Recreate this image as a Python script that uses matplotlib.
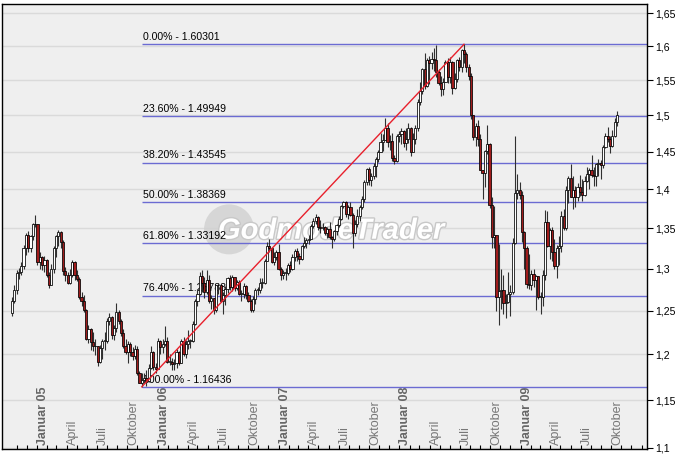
#!/usr/bin/env python3
"""EUR/USD weekly candles with Fibonacci retracement, GodmodeTrader style."""

import datetime as dt

import matplotlib

matplotlib.use("Agg")
import matplotlib.patheffects as pe  # noqa: E402
import matplotlib.pyplot as plt  # noqa: E402
import matplotlib.transforms as mtransforms  # noqa: E402
from matplotlib.patches import Ellipse  # noqa: E402
from matplotlib.ticker import FixedLocator, FuncFormatter, NullLocator  # noqa: E402
import numpy as np  # noqa: E402

plt.rcParams["font.family"] = ["Liberation Sans", "DejaVu Sans"]

# ---- data (weekly bars, first bar = week of 18 Oct 2004) ----
FIRST_WEEK = dt.date(2004, 10, 18)
LAST_LABEL = dt.date(2009, 10, 1)
FIRST_OPEN = 1.2470

close = [
    # 2004
    1.2620, 1.2750, 1.2950, 1.2960, 1.3030, 1.3260, 1.3410, 1.3260, 1.3400, 1.3550, 1.3560,
    # 2005
    1.3080, 1.3140, 1.3050, 1.3110, 1.2920, 1.2810, 1.3000, 1.3250, 1.3400, 1.3450,
    1.3330, 1.2970, 1.2920, 1.2830, 1.2930, 1.3080, 1.2920, 1.2880, 1.2660, 1.2620,
    1.2510, 1.2180, 1.2290, 1.2140, 1.2090, 1.2100, 1.1920, 1.2070, 1.2150, 1.2150,
    1.2380, 1.2430, 1.2220, 1.2300, 1.2480, 1.2380, 1.2240, 1.2100, 1.2030, 1.2120,
    1.2030, 1.1980, 1.2060, 1.1790, 1.1690, 1.1720, 1.1740, 1.1710, 1.1850, 1.2030,
    1.1860, 1.1840,
    # 2006
    1.2150, 1.2080, 1.2120, 1.2150, 1.1920, 1.1920, 1.1890, 1.1910, 1.2030, 1.1910,
    1.2150, 1.2000, 1.2120, 1.2150, 1.2150, 1.2350, 1.2620, 1.2700, 1.2910, 1.2830,
    1.2720, 1.2870, 1.2610, 1.2650, 1.2510, 1.2800, 1.2810, 1.2620, 1.2680, 1.2760,
    1.2890, 1.2780, 1.2900, 1.2770, 1.2840, 1.2700, 1.2700, 1.2790, 1.2680, 1.2620,
    1.2510, 1.2640, 1.2750, 1.2750, 1.2830, 1.2830, 1.3100, 1.3280, 1.3250, 1.3080,
    1.3140, 1.3200,
    # 2007
    1.3000, 1.2920, 1.2950, 1.2950, 1.3040, 1.3000, 1.3140, 1.3220, 1.3150, 1.3120,
    1.3280, 1.3320, 1.3350, 1.3370, 1.3530, 1.3590, 1.3640, 1.3520, 1.3510, 1.3520,
    1.3440, 1.3490, 1.3390, 1.3370, 1.3460, 1.3540, 1.3620, 1.3790, 1.3830, 1.3680,
    1.3770, 1.3670, 1.3440, 1.3560, 1.3650, 1.3770, 1.3880, 1.4090, 1.4270, 1.4120,
    1.4180, 1.4310, 1.4400, 1.4500, 1.4630, 1.4660, 1.4830, 1.4630, 1.4650, 1.4420,
    1.4380, 1.4720, 1.4740,
    # 2008
    1.4780, 1.4620, 1.4680, 1.4830, 1.4500, 1.4670, 1.4830, 1.5190, 1.5350, 1.5660,
    1.5420, 1.5790, 1.5750, 1.5810, 1.5800, 1.5620, 1.5460, 1.5380, 1.5470, 1.5760,
    1.5550, 1.5770, 1.5390, 1.5520, 1.5790, 1.5700, 1.5950, 1.5880, 1.5690, 1.5560,
    1.5000, 1.4700, 1.4850, 1.4680, 1.4260, 1.4220, 1.4510, 1.4610, 1.3800, 1.3390,
    1.3420, 1.2660, 1.2730, 1.2740, 1.2590, 1.2600, 1.2700, 1.2720, 1.3320, 1.3950,
    1.3990, 1.3920,
    # 2009
    1.3450, 1.3260, 1.2820, 1.2800, 1.2940, 1.2870, 1.2910, 1.2660, 1.2660, 1.2920,
    1.3580, 1.3280, 1.3480, 1.3200, 1.3030, 1.3250, 1.3280, 1.3660, 1.3500, 1.3990,
    1.4150, 1.3900, 1.3990, 1.3900, 1.4030, 1.3960, 1.3930, 1.4110, 1.4200, 1.4260,
    1.4190, 1.4180, 1.4330, 1.4350, 1.4320, 1.4560, 1.4710, 1.4680, 1.4580, 1.4710,
    1.4910, 1.5010,
]

high = [
    # 2004
    1.2660, 1.2800, 1.2990, 1.3010, 1.3080, 1.3290, 1.3440, 1.3460, 1.3420, 1.3570, 1.3667,
    # 2005
    1.3560, 1.3200, 1.3160, 1.3150, 1.3120, 1.2960, 1.3060, 1.3280, 1.3420, 1.3480,
    1.3470, 1.3350, 1.3020, 1.2960, 1.3000, 1.3110, 1.3090, 1.2980, 1.2900, 1.2720,
    1.2680, 1.2520, 1.2330, 1.2300, 1.2250, 1.2180, 1.2100, 1.2110, 1.2180, 1.2250,
    1.2420, 1.2470, 1.2440, 1.2330, 1.2586, 1.2510, 1.2400, 1.2290, 1.2170, 1.2150,
    1.2140, 1.2080, 1.2110, 1.2100, 1.1820, 1.1790, 1.1800, 1.1830, 1.1890, 1.2100,
    1.2040, 1.1900,
    # 2006
    1.2190, 1.2160, 1.2180, 1.2320, 1.2200, 1.2010, 1.1960, 1.1950, 1.2060, 1.2040,
    1.2180, 1.2200, 1.2160, 1.2280, 1.2180, 1.2380, 1.2640, 1.2760, 1.2960, 1.2980,
    1.2900, 1.2980, 1.2920, 1.2690, 1.2640, 1.2810, 1.2830, 1.2820, 1.2720, 1.2790,
    1.2900, 1.2920, 1.2920, 1.2900, 1.2870, 1.2860, 1.2740, 1.2830, 1.2800, 1.2720,
    1.2640, 1.2670, 1.2770, 1.2780, 1.2890, 1.2890, 1.3120, 1.3330, 1.3367, 1.3260,
    1.3200, 1.3230,
    # 2007
    1.3300, 1.3020, 1.2990, 1.3010, 1.3070, 1.3090, 1.3180, 1.3240, 1.3260, 1.3190,
    1.3290, 1.3390, 1.3380, 1.3410, 1.3550, 1.3630, 1.3682, 1.3660, 1.3610, 1.3570,
    1.3530, 1.3520, 1.3580, 1.3400, 1.3480, 1.3560, 1.3650, 1.3800, 1.3852, 1.3850,
    1.3800, 1.3840, 1.3700, 1.3600, 1.3740, 1.3800, 1.3910, 1.4120, 1.4280, 1.4290,
    1.4220, 1.4350, 1.4430, 1.4530, 1.4750, 1.4740, 1.4967, 1.4890, 1.4730, 1.4760,
    1.4450, 1.4740, 1.4790,
    # 2008
    1.4830, 1.4800, 1.4820, 1.4900, 1.4840, 1.4750, 1.4870, 1.5230, 1.5470, 1.5680,
    1.5900, 1.5820, 1.5850, 1.5910, 1.5980, 1.6019, 1.5670, 1.5560, 1.5540, 1.5800,
    1.5820, 1.5840, 1.5780, 1.5600, 1.5810, 1.5840, 1.5960, 1.60301, 1.5910, 1.5740,
    1.5610, 1.5000, 1.4900, 1.4940, 1.4740, 1.4260, 1.4530, 1.4860, 1.4620, 1.3900,
    1.3780, 1.3420, 1.3300, 1.3000, 1.2920, 1.2700, 1.2960, 1.2800, 1.3380, 1.4719,
    1.4200, 1.4100,
    # 2009
    1.3980, 1.3470, 1.3280, 1.3180, 1.2990, 1.3000, 1.2920, 1.2890, 1.2720, 1.2990,
    1.3739, 1.3720, 1.3500, 1.3520, 1.3360, 1.3290, 1.3400, 1.3720, 1.3740, 1.4050,
    1.4170, 1.4340, 1.4180, 1.4050, 1.4080, 1.4190, 1.4130, 1.4180, 1.4290, 1.4280,
    1.4450, 1.4290, 1.4350, 1.4400, 1.4390, 1.4590, 1.4760, 1.4840, 1.4720, 1.4800,
    1.4960, 1.5061,
]

low = [
    # 2004
    1.2440, 1.2590, 1.2700, 1.2880, 1.2920, 1.3000, 1.3170, 1.3200, 1.3200, 1.3350, 1.3520,
    # 2005
    1.3050, 1.3000, 1.2990, 1.2960, 1.2900, 1.2770, 1.2800, 1.2950, 1.3140, 1.3280,
    1.3250, 1.2920, 1.2850, 1.2820, 1.2820, 1.2900, 1.2870, 1.2850, 1.2640, 1.2550,
    1.2480, 1.2160, 1.2130, 1.2050, 1.2040, 1.1990, 1.1870, 1.1910, 1.1950, 1.2050,
    1.2130, 1.2330, 1.2180, 1.2160, 1.2250, 1.2350, 1.2210, 1.2070, 1.2000, 1.1910,
    1.1980, 1.1940, 1.1950, 1.1770, 1.1680, 1.16436, 1.1680, 1.1650, 1.1700, 1.1840,
    1.1830, 1.1790,
    # 2006
    1.1840, 1.2000, 1.2020, 1.2100, 1.1900, 1.1880, 1.1830, 1.1830, 1.1850, 1.1880,
    1.1900, 1.1980, 1.1960, 1.2060, 1.2070, 1.2140, 1.2330, 1.2560, 1.2680, 1.2720,
    1.2650, 1.2700, 1.2590, 1.2520, 1.2460, 1.2490, 1.2700, 1.2600, 1.2460, 1.2570,
    1.2710, 1.2750, 1.2730, 1.2730, 1.2750, 1.2690, 1.2620, 1.2650, 1.2640, 1.2600,
    1.2480, 1.2490, 1.2580, 1.2680, 1.2710, 1.2770, 1.2820, 1.3090, 1.3200, 1.3070,
    1.3040, 1.3110,
    # 2007
    1.2980, 1.2870, 1.2880, 1.2870, 1.2920, 1.2960, 1.2990, 1.3090, 1.3090, 1.3060,
    1.3110, 1.3250, 1.3250, 1.3300, 1.3360, 1.3500, 1.3560, 1.3480, 1.3440, 1.3480,
    1.3420, 1.3380, 1.3370, 1.3260, 1.3340, 1.3420, 1.3520, 1.3600, 1.3760, 1.3640,
    1.3620, 1.3660, 1.3260, 1.3400, 1.3520, 1.3590, 1.3740, 1.3840, 1.4060, 1.4060,
    1.4050, 1.4140, 1.4160, 1.4360, 1.4500, 1.4510, 1.4750, 1.4560, 1.4520, 1.4380,
    1.4330, 1.4360, 1.4630,
    # 2008
    1.4610, 1.4570, 1.4520, 1.4620, 1.4440, 1.4490, 1.4600, 1.4790, 1.5140, 1.5300,
    1.5380, 1.5400, 1.5450, 1.5670, 1.5640, 1.5550, 1.5430, 1.5280, 1.5290, 1.5470,
    1.5460, 1.5460, 1.5300, 1.5370, 1.5480, 1.5630, 1.5620, 1.5750, 1.5620, 1.5500,
    1.4950, 1.4660, 1.4580, 1.4580, 1.4250, 1.3880, 1.4030, 1.4470, 1.3760, 1.3260,
    1.3260, 1.2500, 1.2330, 1.2520, 1.2460, 1.2420, 1.2590, 1.2440, 1.2700, 1.3300,
    1.3880, 1.3870,
    # 2009
    1.3330, 1.3000, 1.2770, 1.2760, 1.2740, 1.2780, 1.2510, 1.2640, 1.2457, 1.2550,
    1.2860, 1.3270, 1.3120, 1.3100, 1.3000, 1.2890, 1.3040, 1.3200, 1.3480, 1.3480,
    1.3820, 1.3900, 1.3750, 1.3770, 1.3850, 1.3910, 1.3850, 1.3910, 1.4100, 1.4010,
    1.4160, 1.4050, 1.4050, 1.4170, 1.4140, 1.4280, 1.4550, 1.4630, 1.4480, 1.4560,
    1.4700, 1.4850,
]

price_ticks = [1.1, 1.15, 1.2, 1.25, 1.3, 1.35, 1.4, 1.45, 1.5, 1.55, 1.6, 1.65]
fib_ratios = [0.0, 0.236, 0.382, 0.5, 0.618, 0.764, 1.0]
month_names = {1: "Januar", 4: "April", 7: "Juli", 10: "Oktober"}

# ---- prepare ----
assert len(close) == len(high) == len(low), (len(close), len(high), len(low))
c = np.array(close)
o = np.concatenate([[FIRST_OPEN], c[:-1]])
h = np.maximum(np.array(high), np.maximum(o, c))
lo = np.minimum(np.array(low), np.minimum(o, c))
x = np.arange(len(c))

fig = plt.figure(figsize=(6.83, 4.61), dpi=100)
ax = fig.add_axes([2 / 683, 1 - 448.5 / 461, 645 / 683, 444.5 / 461])
ax.set_facecolor("#efefef")
ax.set_yscale("log")
ax.set_ylim(1.0992, 1.6644)
ax.set_xlim(-4.31, 273.94)

for p in price_ticks:
    ax.axhline(p, color="#dadada", lw=1.0, zorder=0.5)

# watermark
ax.add_patch(Ellipse((0.352, 0.493), 50 / 645, 50 / 444.5, transform=ax.transAxes,
                     facecolor="#d0d0d0", edgecolor="none", alpha=0.8, zorder=0.8))
ax.text(0.51, 0.49, "GodmodeTrader", transform=ax.transAxes, ha="center", va="center",
        fontsize=21, fontweight="bold", fontstyle="italic", color="white", zorder=0.9,
        path_effects=[pe.withStroke(linewidth=2, foreground="#c8c8c8")])

# fibonacci retracement
i_lo, i_hi = int(np.argmin(lo)), int(np.argmax(h))
p_lo, p_hi = lo[i_lo], h[i_hi]
x_right = ax.get_xlim()[1]
for r in fib_ratios:
    lvl = p_hi - r * (p_hi - p_lo)
    ax.hlines(lvl, i_lo, x_right, color="#6b6bd2", lw=1.0, zorder=2)
    ax.annotate(f"{r * 100:.2f}% - {lvl:.5f}", (i_lo, lvl), xytext=(0.8, 1.6),
                textcoords="offset points", fontsize=7.6, ha="left", va="bottom",
                color="black", zorder=2.5)

# candles
up = c >= o
b_lo = np.minimum(o, c)
b_h = np.maximum(np.maximum(o, c) - b_lo, 0.0008)
ax.vlines(x, lo, h, color="#303030", lw=0.8, zorder=3)
ax.bar(x, b_h, bottom=b_lo, width=0.95, color=np.where(up, "white", "#a01c1c"),
       edgecolor="black", linewidth=0.55, zorder=4)

ax.plot([i_lo, i_hi], [p_lo, p_hi], color="#e8202c", lw=1.0, zorder=5)

# y axis on the right
ax.yaxis.tick_right()
ax.yaxis.set_major_locator(FixedLocator(price_ticks))
ax.yaxis.set_minor_locator(NullLocator())
ax.yaxis.set_major_formatter(FuncFormatter(lambda v, _: f"{v:g}".replace(".", ",")))
ax.tick_params(axis="y", direction="out", length=4, width=0.8, labelsize=7.6, pad=2)

# month ticks and labels
month_pos, labels = [], []
d = dt.date(2004, 11, 1)
while d <= dt.date(2010, 1, 1):
    pos = (d - FIRST_WEEK).days / 7
    if pos < ax.get_xlim()[1]:
        month_pos.append(pos)
        if d.month in month_names and d <= LAST_LABEL:
            labels.append((pos, d))
    d = dt.date(d.year + (d.month == 12), d.month % 12 + 1, 1)
ax.xaxis.set_major_locator(FixedLocator(month_pos))
ax.xaxis.set_minor_locator(NullLocator())
ax.tick_params(axis="x", direction="in", length=3, width=0.8, labelbottom=False)

trans = mtransforms.blended_transform_factory(ax.transData, ax.transAxes)
for pos, d in labels:
    if d.month == 1:
        txt, wt, col = f"{month_names[1]} {d.year % 100:02d}", "bold", "#666666"
    else:
        txt, wt, col = month_names[d.month], "normal", "#777777"
    ax.text(pos, 0.008, txt, transform=trans, rotation=90, ha="left", va="bottom",
            fontsize=9, fontweight=wt, color=col, zorder=1)

for s in ax.spines.values():
    s.set_color("black")
    s.set_linewidth(1.0)

fig.savefig("out.png", dpi=100)
